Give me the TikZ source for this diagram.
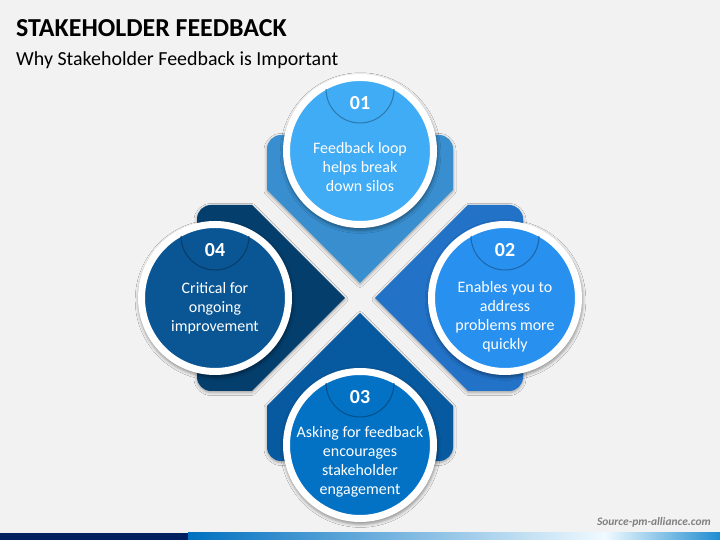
\documentclass[tikz,border=0pt]{standalone}
\usepackage{fontspec}
\setmainfont{Carlito}
\usetikzlibrary{shadows,shadows.blur}
\definecolor{bg}{HTML}{F2F2F2}
\definecolor{c1}{RGB}{64,172,245}
\definecolor{s1}{RGB}{56,142,206}
\definecolor{c2}{RGB}{40,145,240}
\definecolor{s2}{RGB}{34,114,200}
\definecolor{c3}{RGB}{4,114,196}
\definecolor{s3}{RGB}{8,90,160}
\definecolor{c4}{RGB}{10,86,148}
\definecolor{s4}{RGB}{4,62,108}
\definecolor{navy}{HTML}{002060}
\definecolor{barA}{HTML}{0070C0}
\definecolor{barB}{HTML}{00B0F0}
\definecolor{barC}{HTML}{F0FAFF}
\definecolor{barD}{HTML}{1E8CD0}
\begin{document}
\begin{tikzpicture}[x=1bp,y=1bp,
  house/.style={blur shadow={shadow xshift=0bp,shadow yshift=-1.5bp,shadow blur radius=3bp,shadow opacity=35}},
  ring/.style={circle,draw=white,line width=7bp,minimum size=147bp,inner sep=0pt,
    blur shadow={shadow xshift=0.5bp,shadow yshift=-2bp,shadow scale=1.05,shadow blur radius=3bp,shadow opacity=40}},
  bowl/.style={draw=#1!70!black,line width=1bp},
  num/.style={text=white,font=\fontsize{20}{22}\selectfont\bfseries},
  txt/.style={text=white,align=center,font=\fontsize{16}{19}\selectfont}]
\fill[bg] (0,0) rectangle (720,540);
\fill[navy] (0,0) rectangle (188,7);
\shade[left color=barA,middle color=barB,right color=barC] (188,0) rectangle (605,7);
\shade[left color=barC,right color=barD] (605,0) rectangle (720,7);
\node[anchor=base west,inner sep=0pt,font=\fontsize{26}{28}\selectfont\bfseries] (title) at (16,503) {STAKEHOLDER FEEDBACK};
\node[anchor=base west,inner sep=0pt,font=\fontsize{20}{22}\selectfont] (subtitle) at (16,474) {Why Stakeholder Feedback is Important};
\node[anchor=base east,inner sep=0pt,text=black!50,font=\fontsize{11.5}{13}\selectfont\bfseries\itshape] (src) at (711,14) {Source-pm-alliance.com};
\foreach \rot/\col in {0/s1,270/s2,180/s3,90/s4}
  \fill[house,\col,shift={(360,242)},rotate=\rot] (0,15) -- (93,108) -- (93,149) arc(0:90:14) -- (-79,163) arc(90:180:14) -- (-93,108) -- cycle;
\node[ring,fill=c1] (r1) at (360,389) {};
\node[ring,fill=c2] (r2) at (505,242) {};
\node[ring,fill=c3] (r3) at (360,95) {};
\node[ring,fill=c4] (r4) at (215,242) {};
\draw[bowl=c1] ([shift={(-34,62)}]r1.center) arc(180:360:34);
\draw[bowl=c2] ([shift={(-34,62)}]r2.center) arc(180:360:34);
\draw[bowl=c3] ([shift={(-34,62)}]r3.center) arc(180:360:34);
\draw[bowl=c4] ([shift={(-34,62)}]r4.center) arc(180:360:34);
\node[num] (n1) at ([yshift=48]r1.center) {01};
\node[num] (n2) at ([yshift=48]r2.center) {02};
\node[num] (n3) at ([yshift=48]r3.center) {03};
\node[num] (n4) at ([yshift=48]r4.center) {04};
\node[txt] (t1) at ([yshift=-16]r1.center) {Feedback loop\\helps break\\down silos};
\node[txt] (t2) at ([yshift=-19]r2.center) {Enables you to\\address\\problems more\\quickly};
\node[txt] (t3) at ([yshift=-17]r3.center) {Asking for feedback\\encourages\\stakeholder\\engagement};
\node[txt] (t4) at ([yshift=-10]r4.center) {Critical for\\ongoing\\improvement};
\end{tikzpicture}
\end{document}
